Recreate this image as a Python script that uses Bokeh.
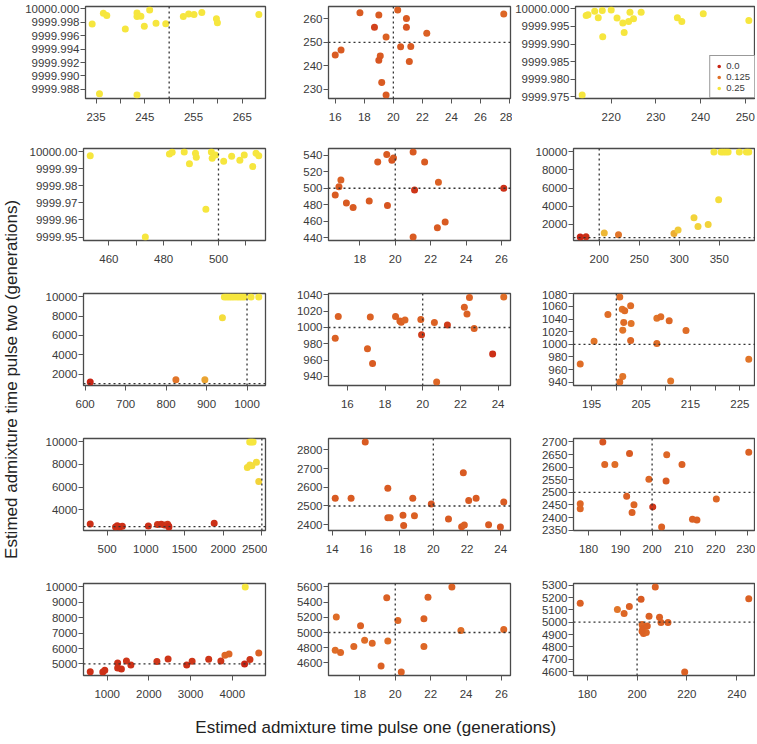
import math
from bokeh.plotting import figure
from bokeh.layouts import row, column
from bokeh.models import (Range1d, FixedTicker, NumeralTickFormatter, Span, Label,
                          ColumnDataSource, Legend, LegendItem, AllLabels)
from bokeh.embed import file_html
from bokeh.resources import INLINE

# ---------------- data ----------------
x_title = "Estimed admixture time pulse one (generations)"
y_title = "Estimed admixture time pulse two (generations)"
legend_values = [0.0, 0.125, 0.25]
legend_labels = ["0.0", "0.125", "0.25"]

# true (simulated) times: pulse one per [row][col], pulse two per row
pulse_one_true = [[250, 20, 200], [500, 20, 200], [1000, 20, 200], [2500, 20, 200], [5000, 20, 200]]
pulse_two_true = [250, 500, 1000, 2500, 5000]

# row 1
r1c1_x = [234.2, 236.5, 237.2, 235.7, 241.0, 243.4, 243.4, 244.2, 243.4, 246.0, 244.9, 247.3, 249.3, 252.9, 254.0, 255.1, 256.7, 259.7, 259.9, 268.4]
r1c1_y = [9999.99775, 9999.99935, 9999.9990, 9999.98735, 9999.9970, 9999.9994, 9999.99885, 9999.9989, 9999.98715, 9999.99985,
          9999.9974, 9999.99785, 9999.9978, 9999.99885, 9999.99925, 9999.99915, 9999.99945, 9999.99855, 9999.99795, 9999.99915]
r1c1_c = [0.25] * 20
r1c2_x = [16.0, 16.4, 17.7, 18.7, 19.0, 19.5, 19.1, 19.0, 19.2, 19.5, 20.3, 20.5, 20.9, 20.9, 21.2, 21.1, 22.3, 27.6]
r1c2_y = [244.6, 246.8, 262.6, 256.4, 261.6, 252.3, 244.2, 242.4, 233.0, 227.6, 263.8, 248.1, 260.1, 256.4, 248.2, 241.9, 253.9, 262.1]
r1c2_c = [0.09, 0.09, 0.09, 0.05, 0.09, 0.10, 0.09, 0.08, 0.09, 0.09, 0.10, 0.09, 0.09, 0.08, 0.09, 0.09, 0.10, 0.11]
r1c3_x = [213.5, 214.4, 214.8, 216.3, 217.1, 218.0, 218.1, 220.0, 221.3, 222.6, 222.9, 223.9, 224.2, 225.0, 226.7, 234.8, 235.8, 240.6, 250.8]
r1c3_y = [9999.9755, 9999.9981, 9999.9983, 9999.9993, 9999.9975, 9999.9995, 9999.9921, 9999.9997, 9999.9974, 9999.9960,
          9999.9933, 9999.9964, 9999.9990, 9999.9972, 9999.9990, 9999.9975, 9999.9964, 9999.9986, 9999.9967]
r1c3_c = [0.25] * 19

# row 2
r2c1_x = [453.2, 482.1, 483.1, 487.5, 491.6, 491.9, 489.4, 473.3, 495.4, 497.4, 497.7, 498.9, 501.9, 504.8, 507.8, 509.4, 512.5, 513.7, 514.7]
r2c1_y = [9999.9975, 9999.9986, 9999.9996, 9999.9998, 9999.9990, 9999.9967, 9999.9929, 9999.9500, 9999.9663, 9999.9998,
          9999.9961, 9999.9980, 9999.9943, 9999.9973, 9999.9949, 9999.9980, 9999.9912, 9999.9990, 9999.9976]
r2c1_c = [0.25] * 19
r2c2_x = [16.61, 16.82, 16.93, 17.24, 17.62, 18.53, 19.01, 19.52, 19.81, 19.90, 19.56, 21.01, 21.09, 21.01, 21.66, 22.44, 22.38, 22.82, 26.13]
r2c2_y = [491.8, 501.9, 510.0, 482.1, 476.8, 484.5, 531.9, 540.8, 534.0, 536.5, 479.2, 544.0, 497.9, 440.8, 531.9, 507.2, 452.1, 459.0, 499.9]
r2c2_c = [0.09, 0.09, 0.10, 0.09, 0.09, 0.09, 0.09, 0.09, 0.08, 0.09, 0.08, 0.09, 0.03, 0.09, 0.09, 0.10, 0.09, 0.09, 0.02]
r2c3_x = [176.3, 183.5, 206.3, 224.1, 293.4, 298.5, 318.4, 323.4, 336.1, 349.2, 343.3, 352.2, 355.1, 358.1, 361.0, 375.0, 383.9, 386.8]
r2c3_y = [561, 598, 1004, 819, 967, 1336, 2700, 1741, 1962, 4691, 10000, 10000, 10000, 10000, 10000, 10000, 10000, 10000]
r2c3_c = [0.0, 0.02, 0.20, 0.13, 0.19, 0.22, 0.23, 0.23, 0.23, 0.24, 0.25, 0.25, 0.25, 0.25, 0.25, 0.25, 0.25, 0.25]

# row 3
r3c1_x = [612.5, 824.2, 895.8, 939.2, 944, 950, 956, 962, 968, 975, 981, 987, 993, 1010, 1029]
r3c1_y = [1162, 1407, 1407, 7834, 10000, 10000, 10000, 10000, 10000, 10000, 10000, 10000, 10000, 10000, 10000]
r3c1_c = [0.0, 0.13, 0.18, 0.24, 0.25, 0.25, 0.25, 0.25, 0.25, 0.25, 0.25, 0.25, 0.25, 0.25, 0.25]
r3c2_x = [15.36, 15.52, 17.07, 17.22, 17.34, 18.56, 18.79, 18.86, 19.06, 19.90, 19.94, 20.62, 20.74, 21.31, 22.21, 22.35, 22.48, 22.73, 23.71, 24.30]
r3c2_y = [986.7, 1013.4, 974.0, 1012.9, 955.9, 1013.4, 1008.0, 1006.4, 1009.3, 1009.7, 991.2, 1006.0, 933.0, 1003.1, 1024.8, 1016.6, 1036.7, 998.6, 967.4, 1037.5]
r3c2_c = [0.10, 0.10, 0.10, 0.10, 0.09, 0.10, 0.10, 0.10, 0.11, 0.10, 0.04, 0.10, 0.11, 0.04, 0.10, 0.10, 0.10, 0.10, 0.02, 0.12]
r3c3_x = [192.7, 195.5, 198.3, 200.7, 201.2, 201.7, 201.5, 201.3, 202.9, 203.0, 202.9, 201.3, 200.7, 208.2, 209.0, 208.2, 210.7, 211.0, 214.1, 226.8]
r3c3_y = [968.6, 1005.0, 1047.3, 1075.2, 1055.7, 1053.1, 1034.6, 1022.4, 1061.0, 1033.0, 1006.1, 949.1, 940.1, 1041.5, 1043.6, 1001.3, 1037.2, 941.7, 1021.9, 976.5]
r3c3_c = [0.12, 0.13, 0.12, 0.12, 0.13, 0.12, 0.12, 0.13, 0.12, 0.13, 0.11, 0.13, 0.12, 0.13, 0.12, 0.12, 0.11, 0.13, 0.12, 0.13]

# row 4
r4c1_x = [282, 631, 662, 697, 609, 1033, 1151, 1199, 1242, 1282, 1295, 1299, 1884, 2312, 2345, 2372, 2430, 2460, 2343, 2365, 2387]
r4c1_y = [2728, 2580, 2462, 2521, 2450, 2551, 2669, 2699, 2640, 2699, 2551, 2455, 2787, 7724, 7950, 7880, 8200, 6480, 10000, 10000, 10000]
r4c1_c = [0.02, 0.02, 0.01, 0.02, 0.02, 0.02, 0.03, 0.02, 0.02, 0.03, 0.02, 0.01, 0.02, 0.24, 0.24, 0.24, 0.24, 0.23, 0.25, 0.25, 0.25]
r4c2_x = [14.18, 15.12, 15.96, 17.30, 17.30, 17.44, 18.20, 18.24, 18.78, 18.88, 19.88, 20.90, 21.78, 21.68, 21.84, 22.10, 22.54, 23.28, 23.98, 24.18]
r4c2_y = [2541, 2541, 2843, 2595, 2437, 2437, 2450, 2396, 2541, 2448, 2511, 2430, 2678, 2389, 2398, 2529, 2541, 2400, 2387, 2521]
r4c2_c = [0.09, 0.09, 0.09, 0.09, 0.09, 0.10, 0.09, 0.09, 0.09, 0.10, 0.08, 0.09, 0.09, 0.09, 0.10, 0.09, 0.09, 0.09, 0.08, 0.09]
r4c3_x = [177.4, 177.4, 184.5, 185.1, 188.3, 192.9, 192.0, 194.3, 193.7, 199.0, 200.2, 204.6, 204.4, 203.0, 209.4, 212.7, 214.1, 220.2, 230.4]
r4c3_y = [2455, 2435, 2700, 2610, 2610, 2654, 2484, 2451, 2420, 2552, 2442, 2649, 2545, 2362, 2610, 2393, 2390, 2473, 2659]
r4c3_c = [0.11, 0.11, 0.08, 0.11, 0.12, 0.09, 0.10, 0.11, 0.10, 0.11, 0.03, 0.11, 0.09, 0.10, 0.10, 0.10, 0.10, 0.11, 0.10]

# row 5
r5c1_x = [594, 895, 943, 1251, 1251, 1341, 1462, 1568, 2192, 2460, 2906, 3036, 3433, 3725, 3822, 3920, 4293, 4309, 4422, 4633]
r5c1_y = [4500, 4470, 4587, 5065, 4739, 4674, 5196, 4935, 5152, 5326, 4935, 5174, 5304, 5196, 5565, 5652, 5000, 10000, 5283, 5717]
r5c1_c = [0.02, 0.02, 0.02, 0.02, 0.02, 0.02, 0.03, 0.02, 0.03, 0.03, 0.02, 0.03, 0.03, 0.03, 0.11, 0.11, 0.0, 0.25, 0.03, 0.10]
r5c2_x = [16.61, 16.67, 16.91, 17.66, 18.04, 18.27, 18.70, 19.20, 19.52, 19.58, 20.15, 20.34, 21.62, 21.62, 21.85, 23.20, 23.71, 26.13]
r5c2_y = [4767, 5203, 4736, 4815, 5088, 4899, 4859, 4560, 5458, 4890, 5159, 4480, 5181, 4815, 5463, 5599, 5026, 5040]
r5c2_c = [0.12, 0.12, 0.11, 0.11, 0.10, 0.12, 0.11, 0.10, 0.10, 0.12, 0.11, 0.10, 0.10, 0.11, 0.10, 0.10, 0.12, 0.11]
r5c3_x = [177.2, 192.1, 194.8, 196.9, 201.6, 207.3, 204.8, 209.0, 209.6, 212.4, 202.0, 202.3, 204.1, 202.6, 203.7, 202.0, 219.1, 244.8]
r5c3_y = [5154, 5102, 5070, 5127, 5186, 5286, 5049, 5040, 4997, 4997, 4981, 4949, 4970, 4908, 4916, 4927, 4596, 5191]
r5c3_c = [0.10, 0.13, 0.11, 0.10, 0.09, 0.10, 0.10, 0.10, 0.10, 0.10, 0.11, 0.10, 0.10, 0.10, 0.11, 0.10, 0.10, 0.10]

# tick values (labelled) and unlabelled intermediate ticks
r1c1_xticks, r1c1_xminor = [235, 245, 255, 265], [240, 250, 260]
r1c1_yticks = [9999.988, 9999.990, 9999.992, 9999.994, 9999.996, 9999.998, 10000.000]
r1c2_xticks, r1c2_yticks = [16, 18, 20, 22, 24, 26, 28], [230, 240, 250, 260]
r1c3_xticks = [220, 230, 240, 250]
r1c3_yticks = [9999.975, 9999.980, 9999.985, 9999.990, 9999.995, 10000.000]
r2c1_xticks, r2c1_xminor = [460, 480, 500], [470, 490, 510]
r2c1_yticks = [9999.95, 9999.96, 9999.97, 9999.98, 9999.99, 10000.00]
r2c2_xticks, r2c2_yticks = [18, 20, 22, 24, 26], [440, 460, 480, 500, 520, 540]
r2c3_xticks, r2c3_yticks = [200, 250, 300, 350], [2000, 4000, 6000, 8000, 10000]
r3c1_xticks, r3c1_yticks = [600, 700, 800, 900, 1000], [2000, 4000, 6000, 8000, 10000]
r3c2_xticks, r3c2_yticks = [16, 18, 20, 22, 24], [940, 960, 980, 1000, 1020, 1040]
r3c3_xticks, r3c3_xminor = [195, 205, 215, 225], [200, 210, 220]
r3c3_yticks = [940, 960, 980, 1000, 1020, 1040, 1060, 1080]
r4c1_xticks, r4c1_yticks = [500, 1000, 1500, 2000, 2500], [4000, 6000, 8000, 10000]
r4c2_xticks, r4c2_yticks = [14, 16, 18, 20, 22, 24], [2400, 2500, 2600, 2700, 2800]
r4c3_xticks = [180, 190, 200, 210, 220, 230]
r4c3_yticks = [2350, 2400, 2450, 2500, 2550, 2600, 2650, 2700]
r5c1_xticks, r5c1_yticks = [1000, 2000, 3000, 4000], [5000, 6000, 7000, 8000, 9000, 10000]
r5c2_xticks, r5c2_yticks = [18, 20, 22, 24, 26], [4600, 4800, 5000, 5200, 5400, 5600]
r5c3_xticks = [180, 200, 220, 240]
r5c3_yticks = [4600, 4700, 4800, 4900, 5000, 5100, 5200, 5300]

panels = [
    [(r1c1_x, r1c1_y, r1c1_c, r1c1_xticks, r1c1_xminor, r1c1_yticks, "0.000"),
     (r1c2_x, r1c2_y, r1c2_c, r1c2_xticks, [], r1c2_yticks, "0"),
     (r1c3_x, r1c3_y, r1c3_c, r1c3_xticks, [], r1c3_yticks, "0.000")],
    [(r2c1_x, r2c1_y, r2c1_c, r2c1_xticks, r2c1_xminor, r2c1_yticks, "0.00"),
     (r2c2_x, r2c2_y, r2c2_c, r2c2_xticks, [], r2c2_yticks, "0"),
     (r2c3_x, r2c3_y, r2c3_c, r2c3_xticks, [], r2c3_yticks, "0")],
    [(r3c1_x, r3c1_y, r3c1_c, r3c1_xticks, [], r3c1_yticks, "0"),
     (r3c2_x, r3c2_y, r3c2_c, r3c2_xticks, [], r3c2_yticks, "0"),
     (r3c3_x, r3c3_y, r3c3_c, r3c3_xticks, r3c3_xminor, r3c3_yticks, "0")],
    [(r4c1_x, r4c1_y, r4c1_c, r4c1_xticks, [], r4c1_yticks, "0"),
     (r4c2_x, r4c2_y, r4c2_c, r4c2_xticks, [], r4c2_yticks, "0"),
     (r4c3_x, r4c3_y, r4c3_c, r4c3_xticks, [], r4c3_yticks, "0")],
    [(r5c1_x, r5c1_y, r5c1_c, r5c1_xticks, [], r5c1_yticks, "0"),
     (r5c2_x, r5c2_y, r5c2_c, r5c2_xticks, [], r5c2_yticks, "0"),
     (r5c3_x, r5c3_y, r5c3_c, r5c3_xticks, [], r5c3_yticks, "0")],
]

# ---------------- styling ----------------
FONT = "Liberation Sans"
TEXT = "#3a3a3a"
ANCHORS = [(0.0, (200, 36, 20)), (0.125, (224, 112, 40)), (0.25, (246, 230, 62))]


def heat(v):
    for (v0, c0), (v1, c1) in zip(ANCHORS[:-1], ANCHORS[1:]):
        if v <= v1:
            t = max(0.0, min(1.0, (v - v0) / (v1 - v0)))
            return "#%02x%02x%02x" % tuple(int(round(a + (b - a) * t)) for a, b in zip(c0, c1))
    return "#%02x%02x%02x" % ANCHORS[-1][1]


def padded(vals):
    lo, hi = min(vals), max(vals)
    d = (hi - lo) * 0.04
    return lo - d, hi + d


YT_W = 22          # width of the strip holding the y title
BL, FW = 61, 182   # left border and frame width of each panel
FH = 92            # frame height
ROW_BT = [6, 3, 3, 3, 3]
ROW_BB = [47, 50, 50, 50, 30]
COL_BR = [2, 2, 0]


def make_panel(i, j):
    xs, ys, cs, xt, xm, yt, yfmt = panels[i][j]
    xlo, xhi = padded(xs)
    ylo, yhi = padded(ys)
    bt, bb, br = ROW_BT[i], ROW_BB[i], COL_BR[j]
    p = figure(width=BL + FW + br, height=bt + FH + bb, output_backend="svg", toolbar_location=None,
               x_range=Range1d(xlo, xhi), y_range=Range1d(ylo, yhi),
               min_border_left=BL, min_border_right=br, min_border_top=bt, min_border_bottom=bb,
               background_fill_color="white", border_fill_color="white")
    p.xgrid.visible = False
    p.ygrid.visible = False
    p.outline_line_color = "#4a4a4a"
    p.outline_line_width = 1.3
    p.xaxis.ticker = FixedTicker(ticks=xt, minor_ticks=xm)
    p.yaxis.ticker = FixedTicker(ticks=yt, minor_ticks=[])
    p.xaxis.formatter = NumeralTickFormatter(format="0")
    p.yaxis.formatter = NumeralTickFormatter(format=yfmt)
    for ax in (p.xaxis[0], p.yaxis[0]):
        ax.axis_line_color = None
        ax.major_tick_in = 0
        ax.major_tick_out = 5
        ax.minor_tick_in = 0
        ax.minor_tick_out = 5
        ax.major_tick_line_color = "#555555"
        ax.minor_tick_line_color = "#555555"
        ax.major_label_text_font = FONT
        ax.major_label_text_font_size = "11.5px"
        ax.major_label_text_color = TEXT
        ax.major_label_policy = AllLabels()
    p.xaxis.major_label_standoff = 9
    p.yaxis.major_label_standoff = 1

    t1 = pulse_one_true[i][j]
    t2 = pulse_two_true[i]
    if xlo <= t1 <= xhi:
        p.add_layout(Span(location=t1, dimension="height", line_color="#333333",
                          line_dash="2 3", line_width=1.3))
    if ylo <= t2 <= yhi:
        p.add_layout(Span(location=t2, dimension="width", line_color="#333333",
                          line_dash="2 3", line_width=1.3))

    src = ColumnDataSource(dict(x=xs, y=ys, color=[heat(c) for c in cs]))
    p.scatter(x="x", y="y", source=src, size=7, fill_color="color", line_color=None)

    if i == 0 and j == 2:
        items = []
        for v, lab in zip(legend_values, legend_labels):
            r = p.scatter(x=[float("nan")], y=[float("nan")], size=4, fill_color=heat(v), line_color=None)
            items.append(LegendItem(label=lab, renderers=[r]))
        leg = Legend(items=items, location="bottom_right", margin=0, padding=4, spacing=0,
                     glyph_width=9, glyph_height=10, label_height=10, label_standoff=3,
                     label_text_font=FONT, label_text_font_size="9.5px", label_text_color=TEXT,
                     border_line_color="#333333", border_line_width=1,
                     background_fill_color="white", background_fill_alpha=1.0)
        p.add_layout(leg)
    return p


grid_rows = [row(*[make_panel(i, j) for j in range(3)]) for i in range(5)]
grid = column(*grid_rows)

XT_H = 38
grid_w = 3 * (BL + FW) + sum(COL_BR)
xt_fig = figure(width=grid_w, height=XT_H, output_backend="svg", toolbar_location=None,
                x_range=Range1d(0, 1), y_range=Range1d(0, 1), x_axis_type=None, y_axis_type=None,
                min_border_left=0, min_border_right=0, min_border_top=0, min_border_bottom=0)
xt_fig.xgrid.visible = False
xt_fig.ygrid.visible = False
xt_fig.outline_line_color = None
xt_fig.add_layout(Label(x=0.482, y=0.42, text=x_title, text_align="center", text_baseline="middle",
                        text_font=FONT, text_font_size="17px", text_color="#222222"))

total_h = sum(ROW_BT) + 5 * FH + sum(ROW_BB) + XT_H
yt_fig = figure(width=YT_W, height=total_h, output_backend="svg", toolbar_location=None,
                x_range=Range1d(0, 1), y_range=Range1d(0, 1), x_axis_type=None, y_axis_type=None,
                min_border_left=0, min_border_right=0, min_border_top=0, min_border_bottom=0)
yt_fig.xgrid.visible = False
yt_fig.ygrid.visible = False
yt_fig.outline_line_color = None
yt_fig.add_layout(Label(x=0.5, y=0.49, text=y_title, angle=math.pi / 2, text_align="center",
                        text_baseline="middle", text_font=FONT, text_font_size="17px",
                        text_color="#222222"))

layout = row(yt_fig, column(grid, xt_fig))

open("out.html", "w").write(file_html(layout, INLINE))
